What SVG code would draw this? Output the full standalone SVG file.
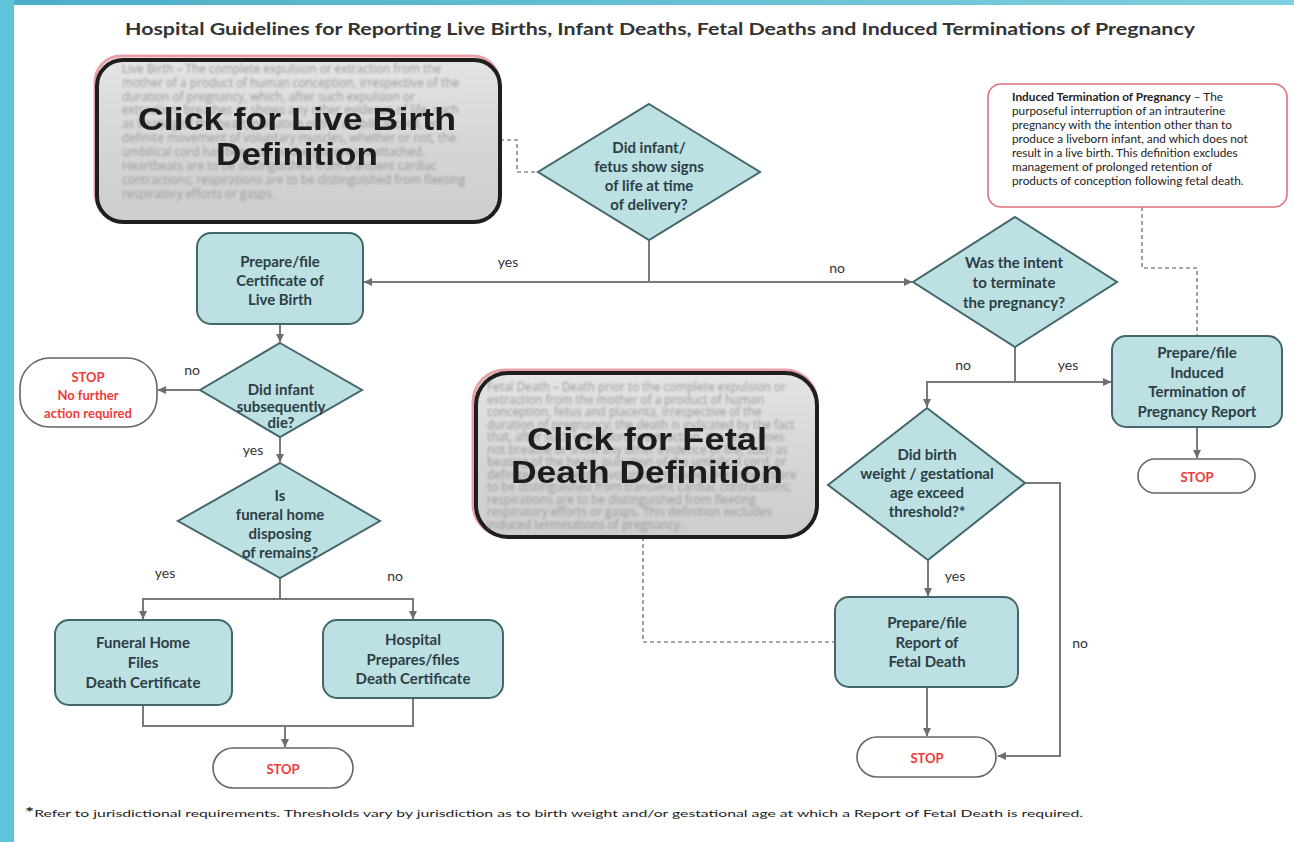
<svg xmlns="http://www.w3.org/2000/svg" width="1294" height="842" viewBox="0 0 1294 842">
<style>
.node{fill:#bde0e3;stroke:#44666d;stroke-width:2}
.t{font-family:Lato,"Open Sans","Liberation Sans",sans-serif;font-weight:bold;font-size:15px;fill:#2c3e45;text-anchor:middle}
.lbl{font-family:Lato,"Open Sans","Liberation Sans",sans-serif;font-size:14px;fill:#333;text-anchor:middle}
.stop{fill:#fff;stroke:#666;stroke-width:1.6}
.st{font-family:Lato,"Open Sans","Liberation Sans",sans-serif;font-weight:bold;font-size:13px;fill:#f03a3a;text-anchor:middle}
.c{fill:none;stroke:#7a7a7a;stroke-width:2}
.d{fill:none;stroke:#8a8a8a;stroke-width:1.6;stroke-dasharray:4 3}
.faint{font-family:"Open Sans","Liberation Sans",sans-serif;font-size:11.8px;fill:#9a9a9a}
.big{font-family:"Liberation Sans",Arial,sans-serif;font-weight:bold;font-size:31px;fill:#1e1e1e;text-anchor:middle}
.def{font-family:Lato,"Open Sans","Liberation Sans",sans-serif;font-size:11.8px;fill:#222}
</style>
<defs>
<marker id="ah" markerWidth="9" markerHeight="9" refX="8" refY="4.5" orient="auto" markerUnits="userSpaceOnUse">
<path d="M0,0.5 L8.5,4.5 L0,8.5 z" fill="#6e6e6e"/>
</marker>
<linearGradient id="gr" x1="0" y1="0" x2="0" y2="1">
<stop offset="0" stop-color="#e4e4e4"/><stop offset="0.5" stop-color="#d6d6d6"/><stop offset="1" stop-color="#cdcdcd"/>
</linearGradient>
<linearGradient id="topbar" x1="0" y1="0" x2="1" y2="0">
<stop offset="0" stop-color="#4aaec6"/><stop offset="1" stop-color="#7fd0e0"/>
</linearGradient>
<filter id="blur" x="-5%" y="-5%" width="110%" height="110%"><feGaussianBlur stdDeviation="0.8"/></filter>
<filter id="blur2" x="-5%" y="-5%" width="110%" height="110%"><feGaussianBlur stdDeviation="0.4"/></filter>
</defs>
<rect x="0" y="0" width="1294" height="842" fill="#ffffff"/>
<rect x="0" y="0" width="1294" height="5" fill="url(#topbar)"/>
<rect x="0" y="0" width="14" height="842" fill="#5fc3da"/>

<text x="660" y="35" font-family="Lato,'Open Sans','Liberation Sans',sans-serif" font-weight="bold" font-size="17" fill="#333" text-anchor="middle" textLength="1070" lengthAdjust="spacingAndGlyphs">Hospital Guidelines for Reporting Live Births, Infant Deaths, Fetal Deaths and Induced Terminations of Pregnancy</text>

<g id="connectors">
<path class="d" d="M500,140 H517 V172 H538"/>
<path class="c" d="M649,240 V282 H364" marker-end="url(#ah)"/>
<path class="c" d="M649,282 H912" marker-end="url(#ah)"/>
<path class="c" d="M280,324 V342" marker-end="url(#ah)"/>
<path class="c" d="M200,390 H158" marker-end="url(#ah)"/>
<path class="c" d="M280,437 V462" marker-end="url(#ah)"/>
<path class="c" d="M280,577 V599 H143 V619" marker-end="url(#ah)"/>
<path class="c" d="M280,599 H413 V619" marker-end="url(#ah)"/>
<path class="c" d="M143,705 V726 H413 V698"/>
<path class="c" d="M285,726 V747" marker-end="url(#ah)"/>
<path class="c" d="M1015,347 V382 H927 V407" marker-end="url(#ah)"/>
<path class="c" d="M1015,382 H1111" marker-end="url(#ah)"/>
<path class="d" d="M1142,207 V268 H1197 V336"/>
<path class="c" d="M1197,427 V458" marker-end="url(#ah)"/>
<path class="c" d="M928,560 V596" marker-end="url(#ah)"/>
<path class="c" d="M927,687 V736" marker-end="url(#ah)"/>
<path class="c" d="M1025,483 H1060 V756 H998" marker-end="url(#ah)"/>
<path class="d" d="M643,537 V642 H835"/>
<text class="lbl" x="508" y="267">yes</text>
<text class="lbl" x="837" y="273">no</text>
<text class="lbl" x="192" y="375">no</text>
<text class="lbl" x="253" y="455">yes</text>
<text class="lbl" x="165" y="578">yes</text>
<text class="lbl" x="395" y="581">no</text>
<text class="lbl" x="963" y="370">no</text>
<text class="lbl" x="1068" y="370">yes</text>
<text class="lbl" x="955" y="581">yes</text>
<text class="lbl" x="1080" y="648">no</text>
</g>

<g id="live-birth-definition">
<rect x="95" y="56" width="404" height="163" rx="26" fill="none" stroke="#e7a0a8" stroke-width="3"/>
<rect x="97" y="60" width="403" height="162" rx="26" fill="url(#gr)" stroke="#1e1e1e" stroke-width="4"/>
<g class="faint" filter="url(#blur)">
<text x="122" y="73">Live Birth – The complete expulsion or extraction from the</text>
<text x="122" y="87">mother of a product of human conception, irrespective of the</text>
<text x="122" y="101">duration of pregnancy, which, after such expulsion or</text>
<text x="122" y="114">extraction, breathes or shows any other evidence of life, such</text>
<text x="122" y="128">as beating of the heart, pulsation of the umbilical cord, or</text>
<text x="122" y="142">definite movement of voluntary muscles, whether or not, the</text>
<text x="122" y="156">umbilical cord has been cut or the placenta is attached.</text>
<text x="122" y="170">Heartbeats are to be distinguished from transient cardiac</text>
<text x="122" y="184">contractions; respirations are to be distinguished from fleeting</text>
<text x="122" y="198">respiratory efforts or gasps.</text>
</g>
<g filter="url(#blur2)">
<text class="big" x="297" y="130" textLength="318" lengthAdjust="spacingAndGlyphs">Click for Live Birth</text>
<text class="big" x="297" y="165" textLength="162" lengthAdjust="spacingAndGlyphs">Definition</text>
</g>
</g>

<g id="fetal-death-definition">
<rect x="473" y="370" width="344" height="166" rx="32" fill="none" stroke="#e7a0a8" stroke-width="3"/>
<rect x="476" y="373" width="341" height="164" rx="32" fill="url(#gr)" stroke="#1e1e1e" stroke-width="4"/>
<g class="faint" filter="url(#blur)" font-size="11.3">
<text x="487" y="391">Fetal Death – Death prior to the complete expulsion or</text>
<text x="487" y="403.5">extraction from the mother of a product of human</text>
<text x="487" y="416">conception, fetus and placenta, irrespective of the</text>
<text x="487" y="428.5">duration of pregnancy; the death is indicated by the fact</text>
<text x="487" y="441">that, after such expulsion or extraction, the fetus does</text>
<text x="487" y="453.5">not breathe or show any other evidence of life, such as</text>
<text x="487" y="466">beating of the heart, pulsation of the umbilical cord, or</text>
<text x="487" y="478.5">definite movement of voluntary muscles. Heartbeats are</text>
<text x="487" y="491">to be distinguished from transient cardiac contractions;</text>
<text x="487" y="503.5">respirations are to be distinguished from fleeting</text>
<text x="487" y="516">respiratory efforts or gasps. This definition excludes</text>
<text x="487" y="528.5">induced terminations of pregnancy.</text>
</g>
<g filter="url(#blur2)">
<text class="big" x="647" y="450" textLength="240" lengthAdjust="spacingAndGlyphs">Click for Fetal</text>
<text class="big" x="647" y="483" textLength="272" lengthAdjust="spacingAndGlyphs">Death Definition</text>
</g>
</g>

<g id="induced-termination-definition">
<rect x="988" y="84" width="299" height="123" rx="13" fill="#fff" stroke="#e0707c" stroke-width="1.6"/>
<g class="def">
<text x="1012" y="101"><tspan font-weight="bold">Induced Termination of Pregnancy</tspan> – The</text>
<text x="1012" y="115">purposeful interruption of an intrauterine</text>
<text x="1012" y="129">pregnancy with the intention other than to</text>
<text x="1012" y="143">produce a liveborn infant, and which does not</text>
<text x="1012" y="157">result in a live  birth. This definition excludes</text>
<text x="1012" y="171">management of prolonged retention  of</text>
<text x="1012" y="185">products of conception following fetal death.</text>
</g>
</g>

<g id="signs-of-life">
<polygon class="node" points="649,104 760,172 649,240 538,172"/>
<text class="t" x="649" y="153">Did infant/</text>
<text class="t" x="649" y="172">fetus show signs</text>
<text class="t" x="649" y="191">of life at time</text>
<text class="t" x="649" y="210">of delivery?</text>
</g>

<g id="certificate-live-birth">
<rect class="node" x="197" y="233" width="166" height="91" rx="14"/>
<text class="t" x="280" y="267">Prepare/file</text>
<text class="t" x="280" y="286">Certificate of</text>
<text class="t" x="280" y="305">Live Birth</text>
</g>

<g id="subsequently-die">
<polygon class="node" points="280,343 362,390 280,437 200,390"/>
<text class="t" x="281" y="395">Did infant</text>
<text class="t" x="281" y="412">subsequently</text>
<text class="t" x="281" y="428">die?</text>
</g>

<g id="stop-no-further">
<rect class="stop" x="20" y="358" width="137" height="69" rx="30"/>
<text class="st" x="88" y="382">STOP</text>
<text class="st" x="88" y="400">No further</text>
<text class="st" x="88" y="418">action required</text>
</g>

<g id="funeral-home-disposing">
<polygon class="node" points="280,463 380,521 280,578 178,521"/>
<text class="t" x="280" y="501">Is</text>
<text class="t" x="280" y="520">funeral home</text>
<text class="t" x="280" y="539">disposing</text>
<text class="t" x="280" y="558">of remains?</text>
</g>

<g id="funeral-home-files">
<rect class="node" x="55" y="620" width="177" height="85" rx="14"/>
<text class="t" x="143" y="648">Funeral Home</text>
<text class="t" x="143" y="668">Files</text>
<text class="t" x="143" y="688">Death Certificate</text>
</g>

<g id="hospital-files">
<rect class="node" x="323" y="620" width="180" height="78" rx="14"/>
<text class="t" x="413" y="645">Hospital</text>
<text class="t" x="413" y="665">Prepares/files</text>
<text class="t" x="413" y="684">Death Certificate</text>
</g>

<g id="stop-left">
<rect class="stop" x="213" y="748" width="140" height="40" rx="20"/>
<text class="st" x="283" y="774">STOP</text>
</g>

<g id="intent-terminate">
<polygon class="node" points="1015,217 1117,282 1015,347 913,282"/>
<text class="t" x="1014" y="268">Was the intent</text>
<text class="t" x="1014" y="288">to terminate</text>
<text class="t" x="1014" y="308">the pregnancy?</text>
</g>

<g id="induced-termination-report">
<rect class="node" x="1112" y="336" width="170" height="91" rx="14"/>
<text class="t" x="1197" y="358">Prepare/file</text>
<text class="t" x="1197" y="378">Induced</text>
<text class="t" x="1197" y="397">Termination of</text>
<text class="t" x="1197" y="417">Pregnancy Report</text>
</g>

<g id="stop-right">
<rect class="stop" x="1138" y="459" width="117" height="34" rx="17"/>
<text class="st" x="1197" y="482">STOP</text>
</g>

<g id="weight-threshold">
<polygon class="node" points="927,408 1025,483 928,560 828,485"/>
<text class="t" x="927" y="460">Did birth</text>
<text class="t" x="927" y="479">weight / gestational</text>
<text class="t" x="927" y="498">age exceed</text>
<text class="t" x="927" y="517">threshold?*</text>
</g>

<g id="report-fetal-death">
<rect class="node" x="835" y="597" width="183" height="90" rx="14"/>
<text class="t" x="927" y="628">Prepare/file</text>
<text class="t" x="927" y="648">Report of</text>
<text class="t" x="927" y="667">Fetal Death</text>
</g>

<g id="stop-center">
<rect class="stop" x="857" y="737" width="139" height="40" rx="20"/>
<text class="st" x="927" y="763">STOP</text>
</g>

<text x="25" y="817" font-family="Lato,'Open Sans','Liberation Sans',sans-serif" font-size="9.5" fill="#222" textLength="1058" lengthAdjust="spacingAndGlyphs"><tspan font-size="13" font-weight="bold">*</tspan>Refer to jurisdictional requirements. Thresholds vary by jurisdiction as to birth weight and/or gestational age at which a Report of Fetal Death is required.</text>
</svg>
